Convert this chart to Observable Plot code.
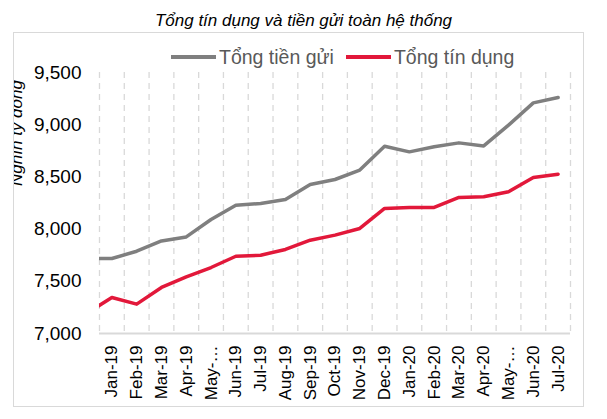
<!DOCTYPE html>
<html>
<head>
<meta charset="utf-8">
<script src="https://cdn.jsdelivr.net/npm/d3@7"></script>
<script src="https://cdn.jsdelivr.net/npm/@observablehq/plot@0.6"></script>
<style>
  body { margin: 0; background: #fff; font-family: "Liberation Sans", Arial, sans-serif; }
  #title { position: absolute; left: 0; top: 11px; width: 607px; text-align: center; font-style: italic; font-size: 17px; line-height: 20px; color: #000; }
  #box { position: absolute; left: 13px; top: 32px; width: 569px; height: 373px; border: 1px solid #d9d9d9; overflow: hidden; background: #fff; }
  #legend { position: absolute; left: 157px; top: 12px; height: 24px; display: flex; align-items: center; font-size: 19.5px; color: #595959; white-space: nowrap; }
  #legend .sw { display: inline-block; width: 45px; height: 4px; margin-right: 3px; }
  #legend .item { display: flex; align-items: center; margin-right: 12px; }
  #ytitle { position: absolute; left: 8px; top: 100px; transform-origin: 0 0; transform: rotate(-90deg) translate(-50%, -82%); font-style: italic; font-size: 17px; line-height: 1; white-space: nowrap; color: #000; }
  #chart { position: absolute; left: 0; top: 0; }
</style>
</head>
<body>
<div id="title">Tổng tín dụng và tiền gửi toàn hệ thống</div>
<div id="box">
  <div id="chart"></div>
  <div id="legend"></div>
  <div id="ytitle">Nghìn tỷ đồng</div>
</div>
<script>
// Categories (months) and displayed tick labels
const months = ["Jan-19","Feb-19","Mar-19","Apr-19","May-19","Jun-19","Jul-19","Aug-19","Sep-19","Oct-19","Nov-19","Dec-19","Jan-20","Feb-20","Mar-20","Apr-20","May-20","Jun-20","Jul-20"];
const tickLabels = ["Jan-19","Feb-19","Mar-19","Apr-19","May-…","Jun-19","Jul-19","Aug-19","Sep-19","Oct-19","Nov-19","Dec-19","Jan-20","Feb-20","Mar-20","Apr-20","May-…","Jun-20","Jul-20"];

// Series values (nghìn tỷ đồng)
const seriesNames = ["Tổng tiền gửi", "Tổng tín dụng"];
const deposits = [7718, 7788, 7887, 7925, 8092, 8229, 8245, 8284, 8427, 8475, 8565, 8794, 8740, 8788, 8826, 8797, 8996, 9209, 9261];
const credit   = [7345, 7281, 7441, 7542, 7632, 7740, 7750, 7805, 7894, 7942, 8006, 8198, 8207, 8207, 8303, 8309, 8357, 8494, 8526];
// Previous month (Dec-18) values, only visible as the line entering at the left edge
const depositsPrev = 7718;
const creditPrev = 7196;

const yTicks = [7000, 7500, 8000, 8500, 9000, 9500];
const colors = ["#7f7f7f", "#e2183a"];

function rows(prev, vals, name) {
  return [{i: -1, v: prev, s: name}].concat(vals.map((v, i) => ({i, v, s: name})));
}
const data = rows(depositsPrev, deposits, seriesNames[0]).concat(rows(creditPrev, credit, seriesNames[1]));
const idx = months.map((d, i) => i);
const bounds = d3.range(months.length + 1).map(i => i - 0.5);

const plot = Plot.plot({
  width: 569,
  height: 373,
  marginLeft: 85,
  marginRight: 13,
  marginTop: 39,
  marginBottom: 73,
  style: { fontFamily: "'Liberation Sans', Arial, sans-serif", color: "#000", background: "transparent" },
  x: { type: "linear", domain: [-0.5, months.length - 0.5] },
  y: { domain: [7000, 9500] },
  color: { domain: seriesNames, range: colors },
  marks: [
    Plot.ruleX(bounds, { stroke: "#d9d9d9", strokeWidth: 1.3, strokeDasharray: "6,5" }),
    Plot.ruleY([7000], { stroke: "#d9d9d9", strokeWidth: 2 }),
    Plot.axisY({ ticks: yTicks, tickFormat: d3.format(","), tickSize: 0, tickPadding: 18, fontSize: 19, label: null }),
    Plot.axisX({ ticks: idx, tickFormat: i => tickLabels[i], tickRotate: -90, tickSize: 0, tickPadding: 12, fontSize: 17, label: null }),
    Plot.line(data, { x: "i", y: "v", z: "s", stroke: "s", strokeWidth: 3.5, clip: true })
  ]
});
document.getElementById("chart").appendChild(plot);

const legend = document.getElementById("legend");
seriesNames.forEach((name, k) => {
  const item = document.createElement("span");
  item.className = "item";
  const sw = document.createElement("span");
  sw.className = "sw";
  sw.style.background = colors[k];
  const t = document.createElement("span");
  t.textContent = name;
  item.appendChild(sw);
  item.appendChild(t);
  legend.appendChild(item);
});
</script>
</body>
</html>
